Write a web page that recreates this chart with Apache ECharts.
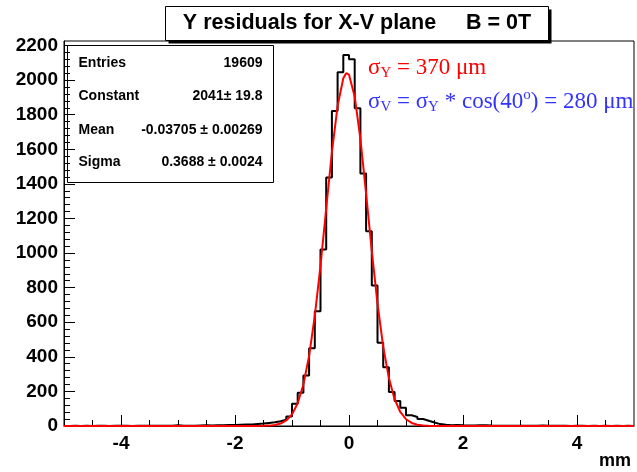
<!DOCTYPE html>
<html><head><meta charset="utf-8">
<script src="https://cdn.jsdelivr.net/npm/echarts@6/dist/echarts.min.js"></script>
<style>html,body{margin:0;padding:0;background:#fff}#c{width:637px;height:472px}</style>
</head><body><div id="c"></div>
<script>
// ---------------- data ----------------
const binLow = -5.0;
const binWidth = 0.1;
const binCounts = [
  0, 1, 0, 1, 0, 1, 1, 0, 1, 1,
  1, 0, 1, 1, 2, 1, 1, 2, 2, 4,
  2, 2, 2, 3, 4, 3, 5, 5, 6, 6,
  7, 8, 9, 12, 14, 18, 22, 28, 36, 55,
  128, 192, 292, 450, 663, 1020, 1437, 1821, 2045, 2145,
  2120, 1837, 1460, 1126, 813, 482, 340, 196, 144, 105,
  62, 52, 40, 30, 20, 11, 7, 5, 6, 4,
  3, 3, 5, 5, 3, 2, 2, 1, 2, 1,
  1, 1, 2, 3, 2, 1, 1, 1, 0, 1,
  1, 0, 1, 0, 1, 0, 1, 0, 1, 0
];
const fitX = [-5, -2, -1.6, -1.5, -1.4, -1.3, -1.2, -1.1, -1.0, -0.9, -0.8, -0.7, -0.6, -0.5, -0.4, -0.3, -0.2, -0.1, -0.05,
  0, 0.1, 0.2, 0.3, 0.4, 0.5, 0.6, 0.7, 0.8, 0.9, 1.0, 1.1, 1.2, 1.3, 1.4, 1.5, 1.6, 2, 5];
const fitY = [0, 0, 0.3, 0.8, 2.2, 5.8, 14.1, 32, 67.4, 131.8, 240.1, 405.2, 636.2, 927.4, 1257.5, 1582.8, 1851, 2011, 2040,
  2031, 1905, 1660, 1344, 1011, 707, 459, 277, 155, 81, 39, 17.6, 7.4, 2.9, 1.0, 0.35, 0.1, 0, 0];
const xTickLabels = [-4, -2, 0, 2, 4];
const yTickLabels = [0, 200, 400, 600, 800, 1000, 1200, 1400, 1600, 1800, 2000, 2200];
const statNames = ['Entries', 'Constant', 'Mean', 'Sigma'];
const statValues = ['19609', '2041\u00b1 19.8', '-0.03705 \u00b1 0.00269', '0.3688 \u00b1 0.0024'];
const titleText = 'Y residuals for X-V plane     B = 0T';
const xAxisTitle = 'mm';

// ---------------- build ----------------
const xMin = -5, xMax = 5, yMin = 0, yMax = 2226;
const histData = binCounts.map((v, i) => [binLow + i * binWidth, v]);
histData.push([binLow + binCounts.length * binWidth, binCounts[binCounts.length - 1]]);
const fitData = fitX.map((x, i) => [x, fitY[i]]);
const xMinorTicks = [];
for (let v = -4.5; v <= 4.5001; v += 0.5) xMinorTicks.push(Math.round(v * 10) / 10);
const yMinorTicks = [];
for (let v = 0; v <= 2200; v += 40) yMinorTicks.push(v);

const GRID = { left: 64, right: 3, top: 41, bottom: 46 };
const labelFont = { fontFamily: 'Liberation Sans', fontWeight: 'bold', fontSize: 19, color: '#000' };
const plain = v => String(v);

const chart = echarts.init(document.getElementById('c'), null, { renderer: 'canvas' });
const statsChildren = [
  { type: 'rect', shape: { x: 0, y: 0, width: 206, height: 137 }, style: { fill: '#fff', stroke: '#000', lineWidth: 1 } }
];
const rowY = [18, 51, 85, 117];
statNames.forEach((n, i) => {
  statsChildren.push({ type: 'text', x: 11, y: rowY[i], style: { text: n, fill: '#000', font: 'bold 14px "Liberation Sans"', textAlign: 'left', textVerticalAlign: 'middle' } });
  statsChildren.push({ type: 'text', x: 195, y: rowY[i], style: { text: statValues[i], fill: '#000', font: 'bold 14px "Liberation Sans"', textAlign: 'right', textVerticalAlign: 'middle' } });
});

chart.setOption({
  animation: false,
  backgroundColor: '#fff',
  grid: { ...GRID, show: true, borderColor: '#000', borderWidth: 1, backgroundColor: 'transparent', containLabel: false },
  xAxis: [
    { type: 'value', min: xMin, max: xMax, position: 'bottom',
      axisLine: { show: true, onZero: false, lineStyle: { color: '#000', width: 1 } },
      axisTick: { show: true, inside: true, length: 11, customValues: xTickLabels, lineStyle: { color: '#000' } },
      axisLabel: { show: true, customValues: xTickLabels, margin: 8, formatter: plain, ...labelFont },
      splitLine: { show: false } },
    { type: 'value', min: xMin, max: xMax, position: 'bottom', gridIndex: 0,
      axisLine: { show: false, onZero: false },
      axisTick: { show: true, inside: true, length: 6, customValues: xMinorTicks, lineStyle: { color: '#000' } },
      axisLabel: { show: false }, splitLine: { show: false } }
  ],
  yAxis: [
    { type: 'value', min: yMin, max: yMax, position: 'left',
      axisLine: { show: true, onZero: false, lineStyle: { color: '#000', width: 1 } },
      axisTick: { show: true, inside: true, length: 11, customValues: yTickLabels, lineStyle: { color: '#000' } },
      axisLabel: { show: true, customValues: yTickLabels, margin: 6, formatter: plain, ...labelFont },
      splitLine: { show: false } },
    { type: 'value', min: yMin, max: yMax, position: 'left', gridIndex: 0,
      axisLine: { show: false, onZero: false },
      axisTick: { show: true, inside: true, length: 6, customValues: yMinorTicks, lineStyle: { color: '#000' } },
      axisLabel: { show: false }, splitLine: { show: false } }
  ],
  series: [
    { type: 'line', name: 'hist', data: histData, step: 'end', symbol: 'none', xAxisIndex: 0, yAxisIndex: 0,
      lineStyle: { color: '#000', width: 2 }, z: 3 },
    { type: 'line', name: 'fit', data: fitData, symbol: 'none', xAxisIndex: 0, yAxisIndex: 0,
      lineStyle: { color: '#ff0000', width: 2 }, z: 4 }
  ],
  graphic: [
    { type: 'group', left: 165, top: 6, children: [
      { type: 'rect', shape: { x: 3, y: 3, width: 383, height: 34 }, style: { fill: '#000' } },
      { type: 'rect', shape: { x: 0, y: 0, width: 383, height: 34 }, style: { fill: '#fff', stroke: '#000', lineWidth: 1 } },
      { type: 'text', x: 191.5, y: 17, style: { text: titleText, fill: '#000', font: 'bold 21.5px "Liberation Sans"', textAlign: 'center', textVerticalAlign: 'middle' } }
    ] },
    { type: 'group', left: 67, top: 45, children: statsChildren },
    { type: 'text', left: 368, top: 56, style: {
      text: '{s|\u03c3}{sub|Y}{s| = 370 \u03bcm}',
      rich: { s: { fontFamily: 'Liberation Serif', fontSize: 23, fill: '#ff0000', color: '#ff0000' },
              sub: { fontFamily: 'Liberation Serif', fontSize: 15, fill: '#ff0000', color: '#ff0000', padding: [11, 0, 0, 0] } } } },
    { type: 'text', left: 368, top: 88, style: {
      text: '{s|\u03c3}{sub|V}{s| = \u03c3}{sub|Y}{s| * cos(40}{sup|o}{s|) = 280 \u03bcm}',
      rich: { s: { fontFamily: 'Liberation Serif', fontSize: 23, fill: '#3333ff', color: '#3333ff' },
              sub: { fontFamily: 'Liberation Serif', fontSize: 15, fill: '#3333ff', color: '#3333ff', padding: [11, 0, 0, 0] },
              sup: { fontFamily: 'Liberation Serif', fontSize: 15, fill: '#3333ff', color: '#3333ff', padding: [0, 0, 12, 0] } } } },
    { type: 'text', right: 6, top: 452, style: { text: xAxisTitle, fill: '#000', font: 'bold 18px "Liberation Sans"' } }
  ]
});
</script></body></html>
